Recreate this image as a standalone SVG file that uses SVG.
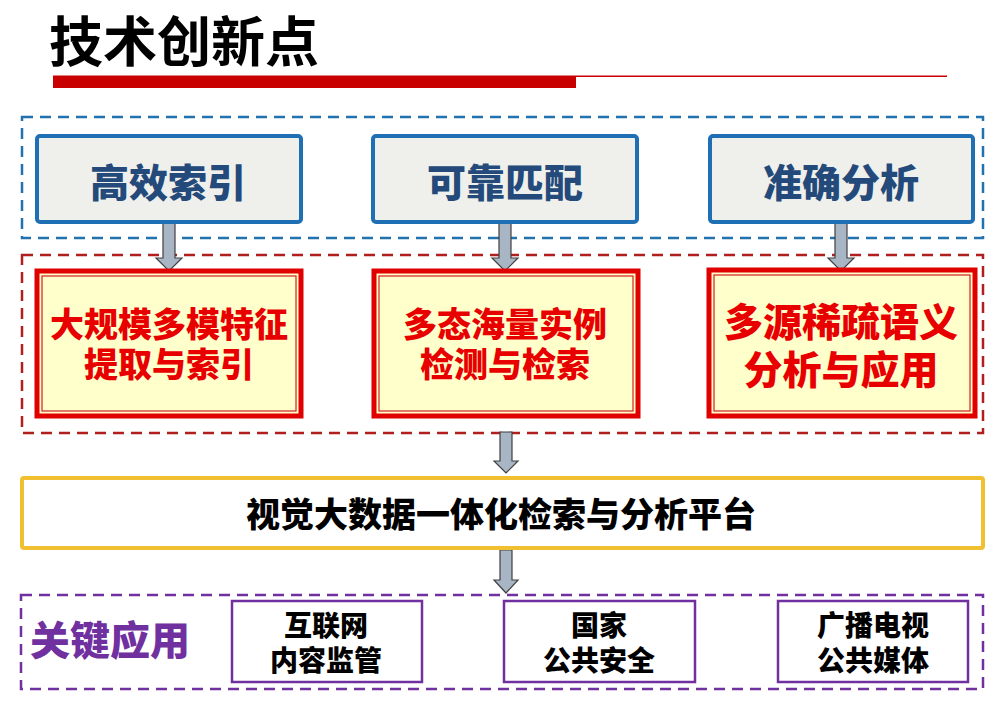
<svg xmlns="http://www.w3.org/2000/svg" width="999" height="706" viewBox="0 0 999 706">
<style>
text{font-family:"Noto Sans CJK SC","Liberation Sans",sans-serif;text-anchor:middle;font-weight:900}
.title{font-size:54px;font-weight:700;fill:#000;text-anchor:start}
.dash{fill:none;stroke-width:2.5;stroke-dasharray:11 7}
.blue{fill:#EFEFEB;stroke:#1F6FB4;stroke-width:4}
.btxt{font-size:39px;fill:#234A7A}
.red{fill:#FFFFCC;stroke:#E00000;stroke-width:5}
.redin{fill:none;stroke:#D02020;stroke-width:1.2}
.rtxt{font-size:34px;fill:#E80000}
.rtxt2{font-size:39px;fill:#E80000}
.arrow{fill:#A7B5C5;stroke:#404040;stroke-width:1.2}
.ptxt{font-size:28px;fill:#000}
.pbox{fill:#fff;stroke:#7030A0;stroke-width:2.5}
</style>
<rect width="999" height="706" fill="#fff"/>
<g id="header">
<text class="title" x="49" y="62">技术创新点</text>
<rect x="53" y="76" width="523" height="12" fill="#C80000"/>
<rect x="53" y="75.5" width="894" height="1.5" fill="#C80000"/>
</g>
<g id="group-goals">
<rect class="dash" x="22" y="117" width="961" height="121" stroke="#2372B0"/>
</g>
<g id="group-tech">
<rect class="dash" x="22" y="255" width="961" height="178" stroke="#B01E1E"/>
</g>
<g id="group-apps">
<rect class="dash" x="21" y="595" width="962" height="94" stroke="#7030A0"/>
<text x="110" y="655" style="font-size:40px;fill:#7030A0">关键应用</text>
</g>
<g id="connectors">
<path class="arrow" d="M163 223 H175 V258 H182 L169 271 L156 258 H163 Z"/>
<path class="arrow" d="M499 223 H511 V258 H518 L505 271 L492 258 H499 Z"/>
<path class="arrow" d="M835 223 H847 V258 H854 L841 271 L828 258 H835 Z"/>
<path class="arrow" d="M500 432 H512 V461 H518 L506 473 L494 461 H500 Z"/>
<path class="arrow" d="M500 550 H512 V580 H518 L506 593 L494 580 H500 Z"/>
</g>
<g id="node-efficient-index">
<rect class="blue" x="37" y="136" width="264" height="86" rx="3"/>
<text class="btxt" x="168" y="197">高效索引</text>
</g>
<g id="node-reliable-match">
<rect class="blue" x="373" y="136" width="264" height="86" rx="3"/>
<text class="btxt" x="505" y="197">可靠匹配</text>
</g>
<g id="node-accurate-analysis">
<rect class="blue" x="710" y="136" width="263" height="86" rx="3"/>
<text class="btxt" x="841" y="197">准确分析</text>
</g>
<g id="node-feature">
<rect class="red" x="37" y="271" width="264" height="145"/>
<rect class="redin" x="42" y="276" width="254" height="135"/>
<text class="rtxt" x="169" y="337">大规模多模特征</text>
<text class="rtxt" x="169" y="377">提取与索引</text>
</g>
<g id="node-instance">
<rect class="red" x="374" y="271" width="264" height="145"/>
<rect class="redin" x="379" y="276" width="254" height="135"/>
<text class="rtxt" x="505" y="337">多态海量实例</text>
<text class="rtxt" x="505" y="377">检测与检索</text>
</g>
<g id="node-semantic">
<rect class="red" x="709" y="270" width="266" height="146"/>
<rect class="redin" x="714" y="275" width="256" height="136"/>
<text class="rtxt2" x="841" y="336">多源稀疏语义</text>
<text class="rtxt2" x="841" y="384">分析与应用</text>
</g>
<g id="node-platform">
<rect x="22" y="478" width="961" height="70" rx="2" fill="#fff" stroke="#F0C030" stroke-width="4"/>
<text x="501" y="527" style="font-size:34px;fill:#000">视觉大数据一体化检索与分析平台</text>
</g>
<g id="node-internet">
<rect class="pbox" x="232" y="601" width="190" height="81"/>
<text class="ptxt" x="326" y="636">互联网</text>
<text class="ptxt" x="326" y="671">内容监管</text>
</g>
<g id="node-security">
<rect class="pbox" x="504" y="601" width="191" height="81"/>
<text class="ptxt" x="599" y="636">国家</text>
<text class="ptxt" x="599" y="671">公共安全</text>
</g>
<g id="node-media">
<rect class="pbox" x="778" y="601" width="190" height="81"/>
<text class="ptxt" x="873" y="636">广播电视</text>
<text class="ptxt" x="873" y="671">公共媒体</text>
</g>
</svg>
